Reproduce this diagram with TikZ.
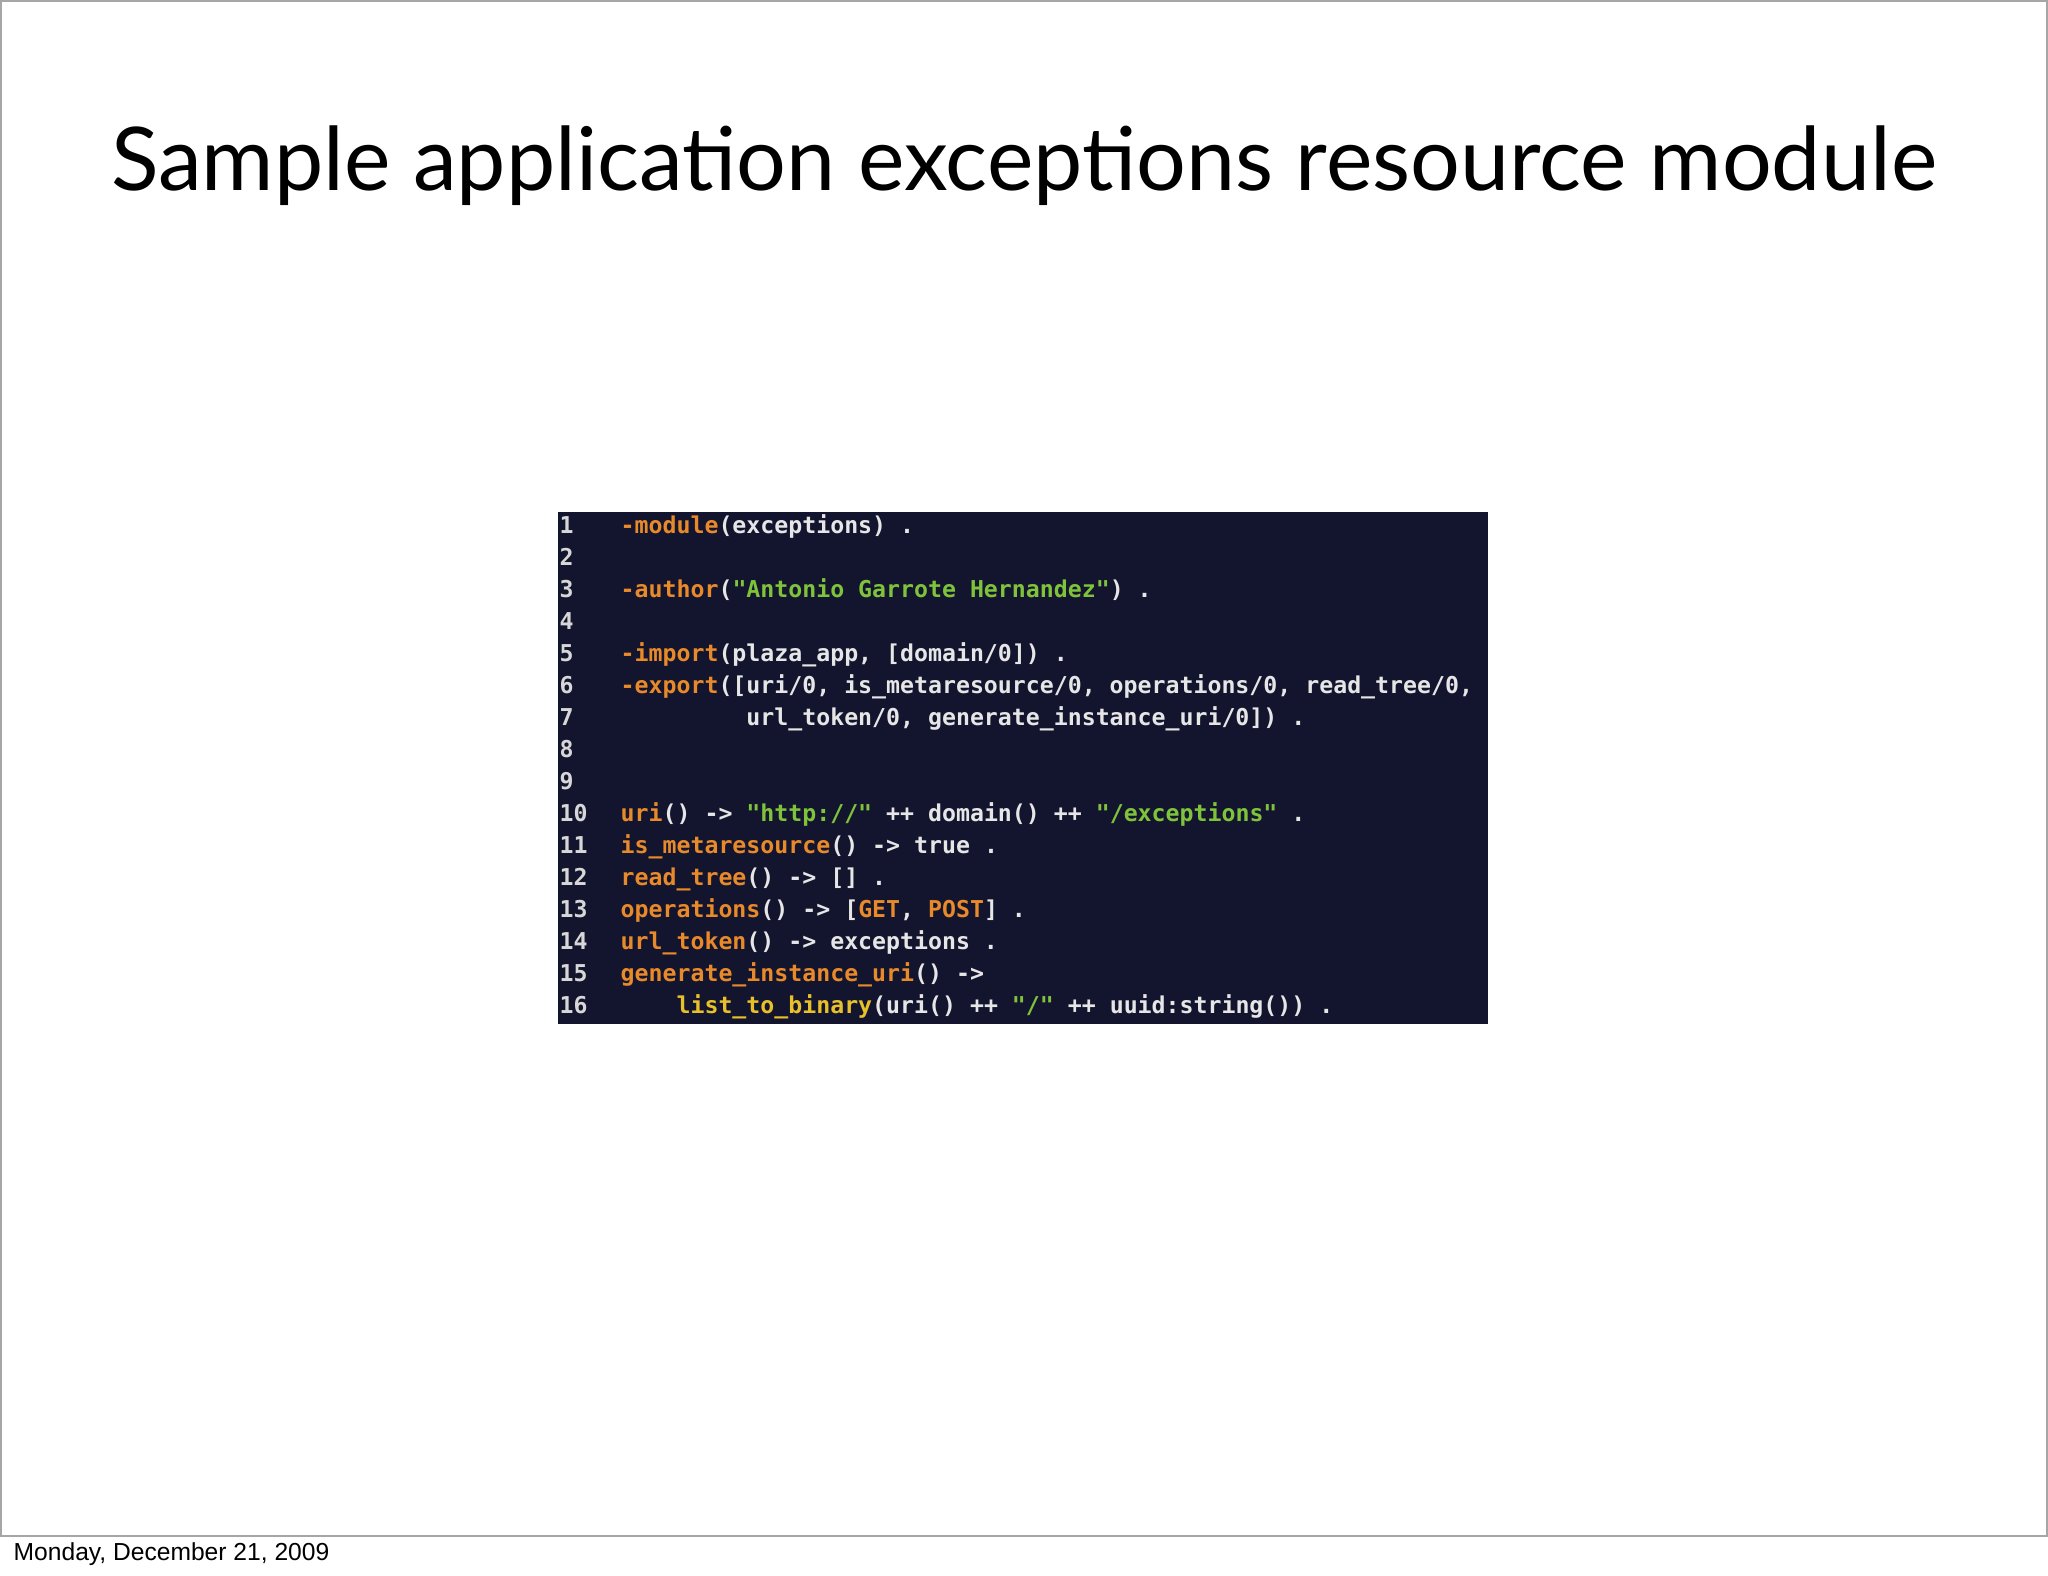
\documentclass[tikz,border=0pt]{standalone}
\usepackage{fontspec}
\setmainfont{Lato}
\setsansfont{Liberation Sans}
\setmonofont{DejaVu Sans Mono}
\definecolor{codebg}{HTML}{13152E}
\definecolor{kw}{HTML}{E8892A}
\definecolor{str}{HTML}{7EC33A}
\definecolor{fn}{HTML}{E8C02A}
\definecolor{txt}{HTML}{E6E6E6}
\newcommand{\Ok}[1]{\textcolor{kw}{#1}}
\newcommand{\Gs}[1]{\textcolor{str}{#1}}
\newcommand{\Yf}[1]{\textcolor{fn}{#1}}
\begin{document}
\begin{tikzpicture}[x=0.01cm,y=-0.01cm,
  codeline/.style={anchor=base west,inner sep=0,text=txt,font=\ttfamily\bfseries\fontsize{6.6pt}{7pt}\selectfont},
  lnum/.style={codeline,text=txt!85!gray}]
\useasboundingbox (0,0) rectangle (2048,1576);
\draw[gray!70,line width=0.8pt] (1,1) rectangle (2047,1536);
\node[font=\fontsize{25pt}{30pt}\selectfont] (title) at (1024,166) {Sample application exceptions resource module};
\node[anchor=base west,inner sep=0,font=\sffamily\fontsize{7pt}{8pt}\selectfont] (date) at (13,1560) {Monday, December 21, 2009};
\fill[codebg] (558,512) rectangle (1488,1024);
\foreach \i in {1,...,16}{\node[lnum] (n\i) at (559,{533+(\i-1)*32}) {\i};}
\newcommand{\cl}[3]{\node[codeline] (#1) at (620,{533+(#2-1)*32}) {#3};}
\cl{c1}{1}{\Ok{-module}(exceptions) .}
\cl{c3}{3}{\Ok{-author}(\Gs{"Antonio Garrote Hernandez"}) .}
\cl{c5}{5}{\Ok{-import}(plaza\_app, [domain/0]) .}
\cl{c6}{6}{\Ok{-export}([uri/0, is\_metaresource/0, operations/0, read\_tree/0,}
\cl{c7}{7}{\hphantom{123456789}url\_token/0, generate\_instance\_uri/0]) .}
\cl{c10}{10}{\Ok{uri}() -> \Gs{"http://"} ++ domain() ++ \Gs{"/exceptions"} .}
\cl{c11}{11}{\Ok{is\_metaresource}() -> true .}
\cl{c12}{12}{\Ok{read\_tree}() -> [] .}
\cl{c13}{13}{\Ok{operations}() -> [\Ok{GET}, \Ok{POST}] .}
\cl{c14}{14}{\Ok{url\_token}() -> exceptions .}
\cl{c15}{15}{\Ok{generate\_instance\_uri}() ->}
\cl{c16}{16}{\hphantom{1234}\Yf{list\_to\_binary}(uri() ++ \Gs{"/"} ++ uuid:string()) .}
\end{tikzpicture}
\end{document}
